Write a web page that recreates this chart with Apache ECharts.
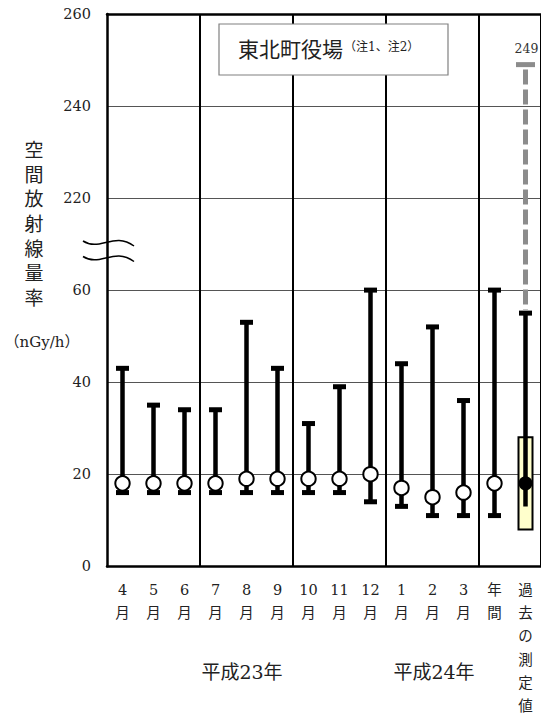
<!DOCTYPE html>
<html><head><meta charset="utf-8">
<script src="https://cdn.jsdelivr.net/npm/echarts@6/dist/echarts.min.js"></script>
<style>html,body{margin:0;padding:0;background:#fff}#c{width:541px;height:718px}</style>
</head><body><div id="c"></div>
<script>
// ---- data ----
const months = ['4','5','6','7','8','9','10','11','12','1','2','3'];
const categories = months.map(m => m + '\n月').concat(['年\n間', '過\n去\nの\n測\n定\n値']);
const maxVals  = [43,35,34,34,53,43,31,39,60,44,52,36,60];
const minVals  = [16,16,16,16,16,16,16,16,14,13,11,11,11];
const meanVals = [18,18,18,18,19,19,19,19,20,17,15,16,18];
const pastMax = 55, pastMin = 13, pastMean = 18;
const pastBoxLow = 8, pastBoxHigh = 28;
const pastRecordMax = 249;
const yTickLabels = [0,20,40,60,220,240,260];
const breakLow = 60, breakHigh = 220;
const yearLabels = ['平成23年','平成24年'];
const yTitle = '空間放射線量率';
const yUnit = '（nGy/h）';
const titleText = '東北町役場';
const titleNote = '（注1、注2）';

// ---- helpers ----
const step = 20;
function mapY(v){ return v <= breakLow ? v : v - (breakHigh - breakLow - step); }
const yMaxMapped = mapY(yTickLabels[yTickLabels.length-1]);
const SERIF = "'DejaVu Serif','Liberation Serif','Noto Sans CJK JP',serif";

const monthlyData = maxVals.map((v,i) => [i, maxVals[i], minVals[i], meanVals[i]]);
const pastData = [[categories.length-1, pastMax, pastMin, pastMean, pastBoxLow, pastBoxHigh, pastRecordMax]];

function renderWhisker(params, api){
  const i = api.value(0);
  const top = api.coord([i, mapY(api.value(1))]);
  const bot = api.coord([i, mapY(api.value(2))]);
  const mid = api.coord([i, mapY(api.value(3))]);
  const x = top[0];
  return {type:'group', children:[
    {type:'rect', shape:{x:x-2.25, y:top[1], width:4.5, height:bot[1]-top[1]}, style:{fill:'#000'}},
    {type:'rect', shape:{x:x-6.5, y:top[1]-2.5, width:13, height:5}, style:{fill:'#000'}},
    {type:'rect', shape:{x:x-6.5, y:bot[1]-2.5, width:13, height:5}, style:{fill:'#000'}},
    {type:'circle', shape:{cx:x, cy:mid[1], r:7.2}, style:{fill:'#fff', stroke:'#000', lineWidth:2}}
  ]};
}

function renderPast(params, api){
  const i = api.value(0);
  const pMax = api.coord([i, mapY(api.value(1))]);
  const pMin = api.coord([i, mapY(api.value(2))]);
  const pMean = api.coord([i, mapY(api.value(3))]);
  const bLow = api.coord([i, mapY(api.value(4))]);
  const bHigh = api.coord([i, mapY(api.value(5))]);
  const rec = api.coord([i, mapY(api.value(6))]);
  const x = pMax[0];
  return {type:'group', children:[
    {type:'line', shape:{x1:x, y1:rec[1]+5, x2:x, y2:pMax[1]-3}, style:{stroke:'#8c8c8c', lineWidth:5, lineDash:[15,5]}},
    {type:'rect', shape:{x:x-9.5, y:rec[1]-2.5, width:19, height:5}, style:{fill:'#8c8c8c'}},
    {type:'text', x:x+1, y:rec[1]-16, style:{text:String(api.value(6)), fill:'#333', fontSize:12.5, fontFamily:SERIF, align:'center', verticalAlign:'middle'}},
    {type:'rect', shape:{x:x-7, y:bHigh[1], width:14, height:bLow[1]-bHigh[1]}, style:{fill:'#FFFFCC', stroke:'#000', lineWidth:2}},
    {type:'rect', shape:{x:x-2.25, y:pMax[1], width:4.5, height:pMin[1]-pMax[1]}, style:{fill:'#000'}},
    {type:'rect', shape:{x:x-6.5, y:pMax[1]-2.5, width:13, height:5}, style:{fill:'#000'}},
    {type:'circle', shape:{cx:x, cy:pMean[1], r:7}, style:{fill:'#000'}}
  ]};
}

function wave(y){
  return {type:'bezierCurve', z:100,
    shape:{x1:83, y1:y, cpx1:100, cpy1:y+11, cpx2:114, cpy2:y-10, x2:134, y2:y+5},
    style:{stroke:'#000', lineWidth:1.5, fill:null}};
}

const chart = echarts.init(document.getElementById('c'), null, {renderer:'svg'});
chart.setOption({
  animation:false,
  backgroundColor:'#fff',
  grid:{left:107, right:0, top:14, bottom:151},
  xAxis:[{
    type:'category', data:categories, boundaryGap:true,
    axisLine:{show:true, lineStyle:{color:'#000', width:2.5}},
    axisTick:{show:false},
    axisLabel:{interval:0, fontSize:14.5, lineHeight:23.3, margin:12, color:'#222', fontFamily:SERIF, verticalAlign:'top'},
    splitLine:{show:true, interval:function(idx){ return idx>0 && idx%3===0; }, lineStyle:{color:'#000', width:2}}
  },{
    type:'category', data:categories, position:'top',
    axisLine:{show:true, lineStyle:{color:'#000', width:2.5}},
    axisTick:{show:false}, axisLabel:{show:false}, splitLine:{show:false}
  }],
  yAxis:{
    type:'value', min:0, max:yMaxMapped, interval:step,
    axisLine:{show:true, lineStyle:{color:'#000', width:2.5}},
    axisTick:{show:false},
    axisLabel:{margin:16, fontSize:14.5, color:'#222', fontFamily:SERIF,
      formatter:function(v){ return v <= breakLow ? String(v) : String(v + (breakHigh - breakLow - step)); }},
    splitLine:{show:true, lineStyle:{color:'#555', width:1}}
  },
  series:[
    {type:'custom', renderItem:renderWhisker, data:monthlyData, encode:{x:0, y:1}, clip:false, z:5},
    {type:'custom', renderItem:renderPast, data:pastData, encode:{x:0, y:1}, clip:false, z:5}
  ],
  graphic:[
    {type:'rect', z:100, shape:{x:219, y:24, width:229, height:51}, style:{fill:'#fff', stroke:'#808080', lineWidth:1.2}},
    {type:'text', z:101, x:238, y:50, style:{text:titleText, fontSize:21, fontFamily:SERIF, fill:'#222', align:'left', verticalAlign:'middle'}},
    {type:'text', z:101, x:344, y:47, style:{text:titleNote, fontSize:12, fontFamily:SERIF, fill:'#222', align:'left', verticalAlign:'middle'}},
    wave(241), wave(256.5),
    {type:'text', z:100, x:34, y:224, style:{text:yTitle.split('').join('\n'), fontSize:19, lineHeight:24.6, fontFamily:SERIF, fill:'#222', align:'center', verticalAlign:'middle'}},
    {type:'text', z:100, x:42, y:342, style:{text:yUnit, fontSize:15, fontFamily:SERIF, fill:'#222', align:'center', verticalAlign:'middle'}},
    {type:'text', z:100, x:242, y:672, style:{text:yearLabels[0], fontSize:19, fontFamily:SERIF, fill:'#222', align:'center', verticalAlign:'middle'}},
    {type:'text', z:100, x:434, y:672, style:{text:yearLabels[1], fontSize:19, fontFamily:SERIF, fill:'#222', align:'center', verticalAlign:'middle'}}
  ]
});
</script>
</body></html>
